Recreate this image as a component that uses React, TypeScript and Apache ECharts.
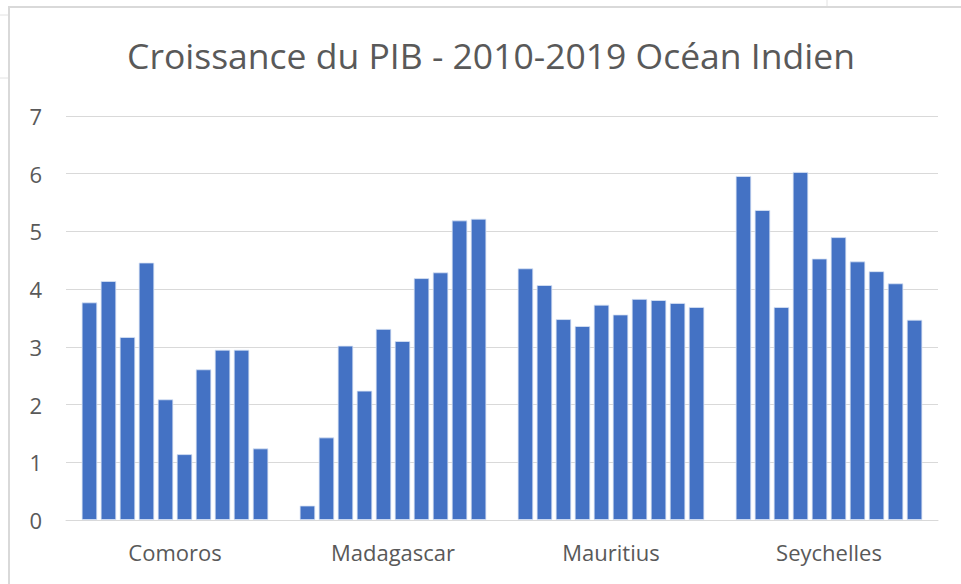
import React, { useEffect, useRef } from "react";
import * as echarts from "echarts";

const countries = ["Comoros", "Madagascar", "Mauritius", "Seychelles"];
const years = ["2010", "2011", "2012", "2013", "2014", "2015", "2016", "2017", "2018", "2019"];
// growth per country, by year 2010..2019
const comoros = [3.77, 4.14, 3.17, 4.46, 2.09, 1.14, 2.61, 2.95, 2.95, 1.24];
const madagascar = [0.25, 1.43, 3.02, 2.24, 3.31, 3.1, 4.19, 4.29, 5.19, 5.22];
const mauritius = [4.36, 4.07, 3.48, 3.36, 3.73, 3.56, 3.83, 3.81, 3.76, 3.69];
const seychelles = [5.96, 5.37, 3.69, 6.03, 4.53, 4.9, 4.48, 4.31, 4.1, 3.47];
const yTicks = [0, 1, 2, 3, 4, 5, 6, 7];

export default function App() {
  const ref = useRef<HTMLDivElement>(null);
  useEffect(() => {
    if (!ref.current) return;
    const chart = echarts.init(ref.current, undefined, { renderer: "svg" });
    const byCountry = [comoros, madagascar, mauritius, seychelles];
    const font = "'Open Sans', 'Noto Sans', sans-serif";
    chart.setOption({
      animation: false,
      backgroundColor: "#ffffff",
      title: {
        text: "Croissance du PIB - 2010-2019 Océan Indien",
        left: 486,
        top: 32,
        textAlign: "center",
        textStyle: { fontFamily: font, fontSize: 35.5, fontWeight: "normal", color: "#595959" },
      },
      graphic: [
        { type: "rect", shape: { x: 9, y: 7, width: 1000, height: 620 }, style: { fill: "none", stroke: "#d9d9d9", lineWidth: 2 }, silent: true },
        { type: "line", shape: { x1: 0, y1: 15, x2: 8, y2: 15 }, style: { stroke: "#e2e2e2", lineWidth: 1 } },
        { type: "line", shape: { x1: 0, y1: 78, x2: 8, y2: 78 }, style: { stroke: "#e2e2e2", lineWidth: 1 } },
        { type: "line", shape: { x1: 827, y1: 0, x2: 827, y2: 6 }, style: { stroke: "#e2e2e2", lineWidth: 1 } },
      ],
      grid: { left: 66, right: 23, top: 116, bottom: 64 },
      xAxis: {
        type: "category",
        data: countries,
        axisLine: { lineStyle: { color: "#d9d9d9", width: 1 } },
        axisTick: { show: false },
        axisLabel: { fontFamily: font, fontSize: 22, color: "#595959", margin: 21 },
      },
      yAxis: {
        type: "value",
        min: yTicks[0],
        max: yTicks[yTicks.length - 1],
        interval: 1,
        axisLine: { show: false },
        axisTick: { show: false },
        splitLine: { lineStyle: { color: "#d9d9d9", width: 1 } },
        axisLabel: { fontFamily: font, fontSize: 22, color: "#595959", margin: 24 },
      },
      series: years.map((y, i) => ({
        name: y,
        type: "bar",
        data: byCountry.map((arr) => arr[i]),
        barGap: "22.6%",
        barCategoryGap: "14.4%",
        itemStyle: { color: "#4472C4", borderColor: "#dbe4f5", borderWidth: 0.8 },
      })),
    });
    return () => chart.dispose();
  }, []);
  return (
    <div
      ref={ref}
      style={{ position: "fixed", left: 0, top: 0, width: 961, height: 584 }}
    />
  );
}
